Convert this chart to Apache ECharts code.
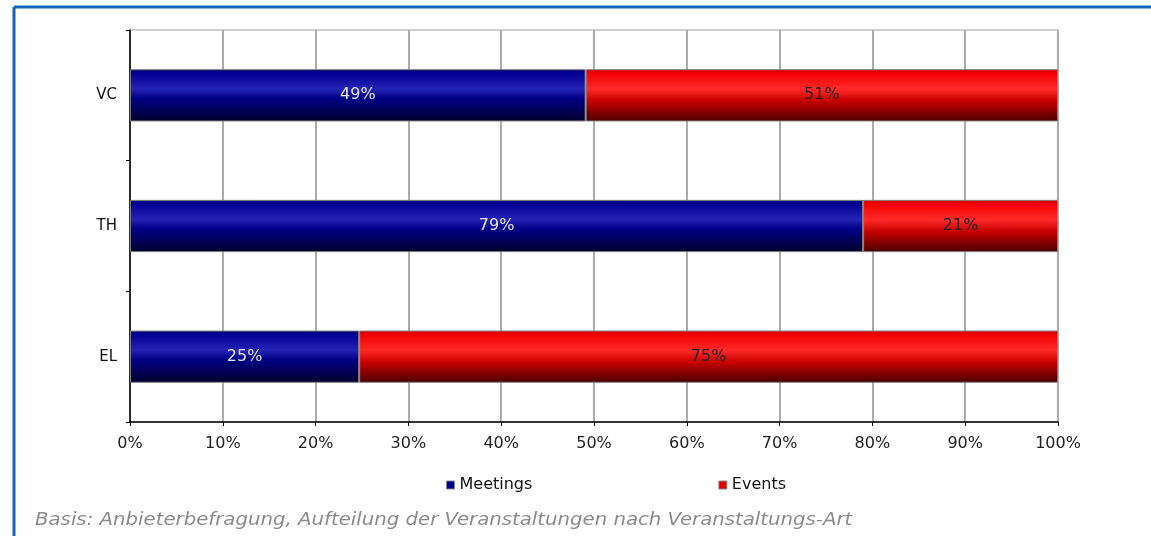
<!DOCTYPE html>
<html>
<head>
<meta charset="utf-8">
<title>Meetings / Events</title>
<script src="https://cdn.jsdelivr.net/npm/echarts@6/dist/echarts.min.js"></script>
<style>
  html, body { margin: 0; padding: 0; background: #fff; }
  #chart { width: 1151px; height: 536px; }
</style>
</head>
<body>
<div id="chart"></div>
<script>
  // categories bottom -> top
  let categories = ['EL', 'TH', 'VC']
  let meetings = [24.7, 79, 49.1]
  let events = [75.3, 21, 50.9]
  let seriesNames = ['Meetings', 'Events']
  let footnote = 'Basis: Anbieterbefragung, Aufteilung der Veranstaltungen nach Veranstaltungs-Art'

  let font = 'DejaVu Sans'
  let blueGrad = new echarts.graphic.LinearGradient(0, 0, 0, 1, [
    {offset: 0, color: '#00006e'},
    {offset: 0.08, color: '#000094'},
    {offset: 0.38, color: '#2424b4'},
    {offset: 0.55, color: '#000088'},
    {offset: 1, color: '#00002a'}
  ])
  let redGrad = new echarts.graphic.LinearGradient(0, 0, 0, 1, [
    {offset: 0, color: '#d00000'},
    {offset: 0.08, color: '#f20000'},
    {offset: 0.38, color: '#ff2a2a'},
    {offset: 0.6, color: '#c80000'},
    {offset: 1, color: '#4a0000'}
  ])

  let chart = echarts.init(document.getElementById('chart'))
  let option = {
    animation: false,
    textStyle: {fontFamily: font},
    grid: {
      left: 130, right: 93, top: 30, bottom: 114,
      show: true, borderColor: '#a0a0a0', borderWidth: 1
    },
    legend: {
      left: 441, top: 472,
      itemWidth: 8, itemHeight: 8, itemGap: 186,
      textStyle: {fontSize: 16, color: '#111', fontFamily: font},
      data: [
        {name: 'Meetings', icon: 'rect', itemStyle: {color: '#000090', borderColor: '#888', borderWidth: 1}},
        {name: 'Events', icon: 'rect', itemStyle: {color: '#e00000', borderColor: '#888', borderWidth: 1}}
      ]
    },
    xAxis: {
      type: 'value', min: 0, max: 100, interval: 10,
      axisLine: {show: true, lineStyle: {color: '#000', width: 1.5}},
      axisTick: {show: true, length: 4, lineStyle: {color: '#000'}},
      axisLabel: {formatter: '{value}%', fontSize: 16, color: '#222', margin: 14},
      splitLine: {show: true, lineStyle: {color: '#ababab', width: 2}}
    },
    yAxis: {
      type: 'category', data: categories,
      axisLine: {show: true, lineStyle: {color: '#000', width: 1.5}},
      axisTick: {show: true, length: 4, lineStyle: {color: '#000'}},
      axisLabel: {fontSize: 15, color: '#111', margin: 13}
    },
    series: [
      {
        name: seriesNames[0], type: 'bar', stack: 'total', barWidth: '40%',
        data: meetings,
        itemStyle: {color: blueGrad, borderColor: '#808080', borderWidth: 1},
        label: {show: true, position: 'inside', fontSize: 16, color: '#e4e4ee',
          formatter: p => Math.round(p.value) + '%'}
      },
      {
        name: seriesNames[1], type: 'bar', stack: 'total', barWidth: '40%',
        data: events,
        itemStyle: {color: redGrad, borderColor: '#808080', borderWidth: 1},
        label: {show: true, position: 'inside', fontSize: 16, color: '#222',
          formatter: p => Math.round(p.value) + '%'}
      }
    ],
    graphic: [
      {type: 'line', shape: {x1: 14, y1: 7, x2: 1151, y2: 7}, style: {stroke: '#1565b8', lineWidth: 3}},
      {type: 'line', shape: {x1: 14, y1: 7, x2: 14, y2: 536}, style: {stroke: '#1565b8', lineWidth: 3}},
      {type: 'text', left: 35, top: 512, scaleX: 1.16,
        style: {text: footnote, font: 'italic 17px ' + font, fill: '#8a8a8a'}}
    ]
  }
  chart.setOption(option)
</script>
</body>
</html>
